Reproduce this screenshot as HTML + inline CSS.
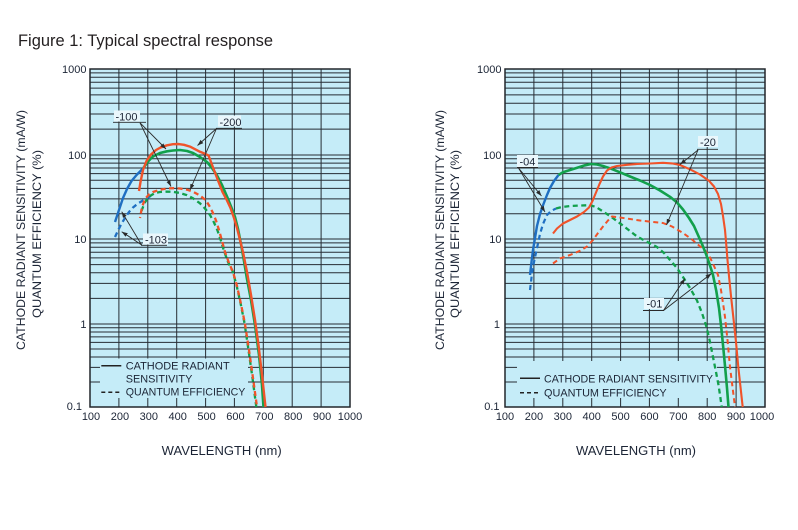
<!DOCTYPE html>
<html><head><meta charset="utf-8"><style>
html,body{margin:0;padding:0;background:#fff}
svg{display:block}
text{font-family:"Liberation Sans",Arial,sans-serif;fill:#1c2536}
</style></head><body>
<svg width="798" height="530" viewBox="0 0 798 530" xmlns="http://www.w3.org/2000/svg">
<defs>
<marker id="ah" viewBox="0 0 10 10" refX="10" refY="5" markerWidth="6" markerHeight="6" orient="auto" markerUnits="userSpaceOnUse"><path d="M0,1.5 L10,5 L0,8.5z" fill="#2a2a2a"/></marker>
<g id="grid">
<rect x="90" y="69" width="260" height="338" fill="#c5ecf8"/>
<path fill="none" stroke="#262d34" stroke-width="1" d="M90 72.9H350M90 77.3H350M90 82.3H350M90 88.1H350M90 94.9H350M90 103.2H350M90 114H350M90 129.1H350M90 155H350M90 158.8H350M90 163.1H350M90 168H350M90 173.6H350M90 180.3H350M90 188.4H350M90 198.9H350M90 213.7H350M90 239H350M90 242.9H350M90 247.2H350M90 252.2H350M90 257.9H350M90 264.6H350M90 272.8H350M90 283.4H350M90 298.4H350M90 324H350M90 327.8H350M90 332H350M90 336.9H350M90 342.4H350M90 349H350M90 357H350M90 367.4H350M90 382H350M118.9 69V407M147.8 69V407M176.7 69V407M205.6 69V407M234.4 69V407M263.3 69V407M292.2 69V407M321.1 69V407"/>
</g>
</defs>

<text x="18" y="46" font-size="16.5" textLength="255" lengthAdjust="spacingAndGlyphs" style="fill:#231f20">Figure 1: Typical spectral response</text>

<!-- LEFT CHART -->
<use href="#grid"/>
<rect x="100" y="358.5" width="148" height="39.5" fill="#c5ecf8"/>
<rect x="90" y="69" width="260" height="338" fill="none" stroke="#22272c" stroke-width="1.5"/>

<g font-size="11" text-anchor="end">
<text x="86.5" y="73">1000</text>
<text x="86.5" y="159">100</text>
<text x="86.5" y="243">10</text>
<text x="86.5" y="328">1</text>
<text x="82" y="410">0.1</text>
</g>
<g font-size="11" text-anchor="middle">
<text x="91" y="420">100</text><text x="119.9" y="420">200</text><text x="148.8" y="420">300</text><text x="177.7" y="420">400</text><text x="206.6" y="420">500</text><text x="235.4" y="420">600</text><text x="264.3" y="420">700</text><text x="293.2" y="420">800</text><text x="322.1" y="420">900</text><text x="350" y="420">1000</text>
</g>
<text font-size="12" text-anchor="middle" transform="translate(25,230) rotate(-90)" textLength="240" lengthAdjust="spacingAndGlyphs">CATHODE RADIANT SENSITIVITY (mA/W)</text>
<text font-size="12" text-anchor="middle" transform="translate(41,234) rotate(-90)" textLength="168" lengthAdjust="spacingAndGlyphs">QUANTUM EFFICIENCY (%)</text>
<text x="161.7" y="455" font-size="12.5" textLength="120" lengthAdjust="spacingAndGlyphs">WAVELENGTH (nm)</text>

<!-- legend left -->
<path d="M101.3 365.7H121.3" stroke="#222" stroke-width="1.5"/>
<path d="M101.3 392.3H121.3" stroke="#222" stroke-width="1.5" stroke-dasharray="4 3"/>
<g font-size="11">
<text x="125.7" y="369.3" textLength="104" lengthAdjust="spacingAndGlyphs">CATHODE RADIANT</text>
<text x="125.7" y="382.7" textLength="66.7" lengthAdjust="spacingAndGlyphs">SENSITIVITY</text>
<text x="125.7" y="395.7" textLength="119.7" lengthAdjust="spacingAndGlyphs">QUANTUM EFFICIENCY</text>
</g>

<!-- label boxes left -->
<rect x="114" y="110.5" width="26" height="11" fill="#eaf7fc"/>
<rect x="218" y="115.5" width="23" height="11" fill="#eaf7fc"/>
<rect x="143" y="233.5" width="25" height="11" fill="#eaf7fc"/>

<!-- curves left -->
<g fill="none" stroke-linejoin="round" stroke-linecap="butt">
<polyline stroke="#1f6fc2" stroke-width="2.3" stroke-dasharray="5 3.5" points="115,237 118,230.5 121,224.5 125,218 129,212 133,207.5 138,203.5 143,200.5 148,197.5 151,195.8"/>
<polyline stroke="#12a04c" stroke-width="2.3" stroke-dasharray="5 3.5" points="141.5,211 144.5,203 149,196.5 155,193 160,192 167,191.6 173,191.8 180,193 187,195.2 193,198.3 200,203.3 205,208.5 210,215 214,222.5 217.5,230.5 221,241 224,251 228,262 232.5,271 236.5,285 240.5,303 244.5,323 248.5,350 252.5,378 256.3,407"/>
<polyline stroke="#f0532a" stroke-width="2.3" stroke-dasharray="5 3.5" stroke-dashoffset="4" points="140,218 142,207 145,199 149,194.5 153,192 160,189.7 167,188.5 174,188.2 180,188.5 187,189.7 193,191.7 200,195.5 206,200.5 210,207 213,213 216,220.5 219,230 222,241 225,252 229,263 233,272 237,286 241,304 245,324 249,350 253,378 257,407"/>
<polyline stroke="#1f6fc2" stroke-width="2.4" points="115,222 119,210 123,198 127,189 131.5,181 137,174.5 143,168.5"/>
<polyline stroke="#12a04c" stroke-width="2.6" points="143,168.5 148,161.5 153,156.5 160,153 167,151.3 173,150.5 180,150 187,151 193,153 200,157 207,162 212,168 217,175.5 222,185 227,196.5 231,206.5 235,217 238,229 241,244 244,261 247,279 251,300 255,325 259,355 262,385 263.5,407"/>
<polyline stroke="#f0532a" stroke-width="2.4" points="139,191 140.5,182 143,170 146.5,161 151,154.5 156,150 161,147.3 167,145.3 173,144.2 178.5,144 184,144.8 190,146.6 195,149.2 200,151.8 205,153.8 208.5,155.5 211,162 214,170 218,180.5 222.5,192 227,200.5 230.5,208 234,218 237,228 240,240 243,252 247,272 251,295 255,320 258.5,345 262,375 265.5,407"/>
</g>

<!-- labels left -->
<g font-size="11">
<text x="115.5" y="120.5">-100</text>
<text x="219.5" y="125.8">-200</text>
<text x="145" y="243.3">-103</text>
</g>
<g stroke="#2a2a2a" stroke-width="0.9" fill="none">
<path d="M113 122.3H146M216 128.3H242M141 245.3H167"/>
<path d="M140 122.8L166 149" marker-end="url(#ah)"/>
<path d="M140 122.8L171 186.5" marker-end="url(#ah)"/>
<path d="M216.5 128.5L197.5 145.5" marker-end="url(#ah)"/>
<path d="M216.5 128.5L190 190" marker-end="url(#ah)"/>
<path d="M141.7 245L121.7 211.7" marker-end="url(#ah)"/>
<path d="M141.7 245L121.7 231.7" marker-end="url(#ah)"/>
</g>

<!-- RIGHT CHART -->
<use href="#grid" x="415"/>
<rect x="517" y="361" width="200" height="37" fill="#c5ecf8"/>
<rect x="505" y="69" width="260" height="338" fill="none" stroke="#22272c" stroke-width="1.5"/>

<g font-size="11" text-anchor="end">
<text x="501.5" y="73">1000</text>
<text x="501.5" y="159">100</text>
<text x="501.5" y="243">10</text>
<text x="500" y="328">1</text>
<text x="499.5" y="410">0.1</text>
</g>
<g font-size="11" text-anchor="middle">
<text x="505" y="420">100</text><text x="533.9" y="420">200</text><text x="562.8" y="420">300</text><text x="591.7" y="420">400</text><text x="620.6" y="420">500</text><text x="649.4" y="420">600</text><text x="678.3" y="420">700</text><text x="707.2" y="420">800</text><text x="736.1" y="420">900</text><text x="762" y="420">1000</text>
</g>
<text font-size="12" text-anchor="middle" transform="translate(444,230) rotate(-90)" textLength="240" lengthAdjust="spacingAndGlyphs">CATHODE RADIANT SENSITIVITY (mA/W)</text>
<text font-size="12" text-anchor="middle" transform="translate(459,234) rotate(-90)" textLength="168" lengthAdjust="spacingAndGlyphs">QUANTUM EFFICIENCY (%)</text>
<text x="576" y="455" font-size="12.5" textLength="120" lengthAdjust="spacingAndGlyphs">WAVELENGTH (nm)</text>

<!-- legend right -->
<path d="M520 378.3H540" stroke="#222" stroke-width="1.5"/>
<path d="M520 392.7H540" stroke="#222" stroke-width="1.5" stroke-dasharray="4 3"/>
<g font-size="11">
<text x="544" y="382.7" textLength="169" lengthAdjust="spacingAndGlyphs">CATHODE RADIANT SENSITIVITY</text>
<text x="544" y="396.7" textLength="122.7" lengthAdjust="spacingAndGlyphs">QUANTUM EFFICIENCY</text>
</g>

<!-- label boxes right -->
<rect x="517" y="155" width="21" height="13" fill="#eaf7fc"/>
<rect x="698" y="136" width="20" height="11" fill="#eaf7fc"/>
<rect x="644" y="298" width="20" height="11" fill="#eaf7fc"/>

<!-- curves right -->
<g fill="none" stroke-linejoin="round" stroke-linecap="butt">
<polyline stroke="#12a04c" stroke-width="2.3" stroke-dasharray="5 3.5" points="556,208.5 562,207 570,206 580,205.5 590,205.2 596,207 603,211.5 610,216 620,223.3 628,229.5 637,236.5 647,241.8 657,247 664,253 670,260 677,268 683,277 690,288 697,300.5 702,313 706.5,327 710,342 713,357 716,372 718.5,385 720.3,397 721.7,407"/>
<polyline stroke="#f0532a" stroke-width="2" stroke-dasharray="5 3.5" points="553,263.5 560,258.5 570,255 580,250.8 587,246.5 593,240 598,233 603,226.5 608,220.5 612,216.5 620,217.5 630,219 640,220.5 650,221.6 663,223 672,226.5 683,233 692,239.5 700,246.3 706,251.5 710,257.5 714,266 718,275 721,290 723.3,305 725,317 727.5,340 730,367 732.5,387 735,407"/>
<polyline stroke="#1f6fc2" stroke-width="2.2" stroke-dasharray="5 3.5" points="530,290 531,282 532,273 534,262 537,248 540,234 543,224 547,215 551,211 556,208.5"/>
<polyline stroke="#1f6fc2" stroke-width="2.4" points="530,275 531.5,262 533,250 535,238 537,226 540,214 543.5,204 547,195 550,188 554,181 558.5,175"/>
<polyline stroke="#12a04c" stroke-width="2.6" points="558.5,175 563,172.2 570,170 578,167.5 585,165.3 591,164 597,164.5 604,166.3 610,168.3 620,172.3 630,176.5 640,180.5 650,185 660,190.5 670,196.8 677,202.5 683,209.5 689,218 694,226 698,235 702,244 706,254 709.5,264 713,275 716.3,291 719,308 721.3,328 723.3,348 725.2,368 727,388 728.5,407"/>
<polyline stroke="#f0532a" stroke-width="2.1" points="553,233.5 557,228.5 563,223.5 570,220 577,216.5 584,212 589,207.5 592.5,201 596,192.5 599.5,184 603,176.5 607,170.5 611.5,167.5 617,166 627,164.8 637,164 650,163.5 663,162.8 672,163.4 680,165 690,169.3 700,174.5 709,180.8 714,186.5 718,194 721,204 723,216 725,230 726.3,245 727.5,260 729,276 731,296 733.3,317 736,342 738.3,367 740.5,387 742.7,407"/>
</g>

<!-- labels right -->
<g font-size="11">
<text x="519.5" y="165.3">-04</text>
<text x="700" y="145.8">-20</text>
<text x="646.5" y="307.5">-01</text>
</g>
<g stroke="#2a2a2a" stroke-width="0.9" fill="none">
<path d="M517 167.5H538M697 149.3H718M643 310.5H664"/>
<path d="M518.5 168L541.5 196" marker-end="url(#ah)"/>
<path d="M518.5 168L545 212" marker-end="url(#ah)"/>
<path d="M698 150L680 164.5" marker-end="url(#ah)"/>
<path d="M698 150L666.5 225" marker-end="url(#ah)"/>
<path d="M663.5 310.5L685 278.5" marker-end="url(#ah)"/>
<path d="M663.5 310.5L711.5 273.5" marker-end="url(#ah)"/>
</g>
</svg>
</body></html>
